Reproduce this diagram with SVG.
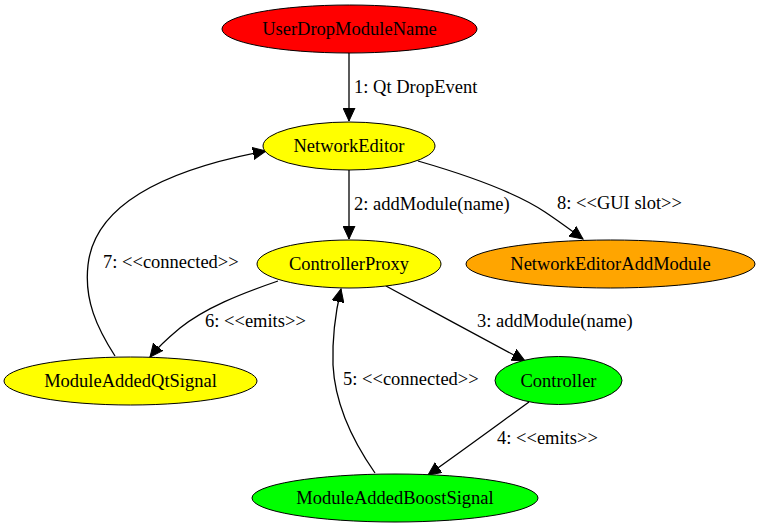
<svg xmlns="http://www.w3.org/2000/svg" width="760" height="528" viewBox="0 0 760 528">
<style>
.n{stroke:#000;stroke-width:1}
.t{font-family:"Liberation Serif","Times New Roman",serif;font-size:18.5px;fill:#000}
.c{text-anchor:middle}
.e{fill:none;stroke:#000;stroke-width:1.3;marker-end:url(#ah)}
</style>
<defs>
<marker id="ah" markerUnits="userSpaceOnUse" markerWidth="14" markerHeight="13" refX="13" refY="6.5" orient="auto">
<path d="M0,0.5 L13,6.5 L0,12.5 Z" fill="#000" stroke="#000" stroke-width="1"/>
</marker>
</defs>
<rect width="760" height="528" fill="#fff"/>
<g id="edges">
<path class="e" d="M349,53 L349,121"/>
<text class="t" x="354" y="93">1: Qt DropEvent</text>
<path class="e" d="M349,170 L349,239"/>
<text class="t" x="354" y="210">2: addModule(name)</text>
<path class="e" d="M418,161 C470,176 515,192 545,212 C560,222 572,231 583,239"/>
<text class="t" x="557" y="209">8: &lt;&lt;GUI slot&gt;&gt;</text>
<path class="e" d="M386,286 C430,310 482,338 525,361"/>
<text class="t" x="477" y="327">3: addModule(name)</text>
<path class="e" d="M529,402 C500,423 462,451 428,475"/>
<text class="t" x="497" y="444">4: &lt;&lt;emits&gt;&gt;</text>
<path class="e" d="M375,473 C352,440 335,405 333,365 C332,335 336,310 341,289"/>
<text class="t" x="343" y="385">5: &lt;&lt;connected&gt;&gt;</text>
<path class="e" d="M278,281 C240,294 205,308 180,328 C168,338 158,347 150,357"/>
<text class="t" x="205" y="327">6: &lt;&lt;emits&gt;&gt;</text>
<path class="e" d="M115,356 C97,328 84,300 88,265 C95,200 175,168 266,151"/>
<text class="t" x="103" y="268">7: &lt;&lt;connected&gt;&gt;</text>
</g>
<g id="UserDropModuleName">
<ellipse class="n" cx="349.5" cy="29" rx="127.5" ry="24" fill="#ff0000"/>
<text class="t c" x="349.5" y="35">UserDropModuleName</text>
</g>
<g id="NetworkEditor">
<ellipse class="n" cx="349" cy="146" rx="86" ry="24" fill="#ffff00"/>
<text class="t c" x="349" y="152">NetworkEditor</text>
</g>
<g id="ControllerProxy">
<ellipse class="n" cx="349" cy="264" rx="92" ry="24" fill="#ffff00"/>
<text class="t c" x="349" y="270">ControllerProxy</text>
</g>
<g id="NetworkEditorAddModule">
<ellipse class="n" cx="610.5" cy="264" rx="144.5" ry="24" fill="#ffa500"/>
<text class="t c" x="610.5" y="270">NetworkEditorAddModule</text>
</g>
<g id="ModuleAddedQtSignal">
<ellipse class="n" cx="130.5" cy="381" rx="126.5" ry="24" fill="#ffff00"/>
<text class="t c" x="130.5" y="387">ModuleAddedQtSignal</text>
</g>
<g id="Controller">
<ellipse class="n" cx="558.5" cy="380.5" rx="63.5" ry="24" fill="#00ff00"/>
<text class="t c" x="558.5" y="386.5">Controller</text>
</g>
<g id="ModuleAddedBoostSignal">
<ellipse class="n" cx="395" cy="498" rx="143" ry="24" fill="#00ff00"/>
<text class="t c" x="395" y="504">ModuleAddedBoostSignal</text>
</g>
</svg>
